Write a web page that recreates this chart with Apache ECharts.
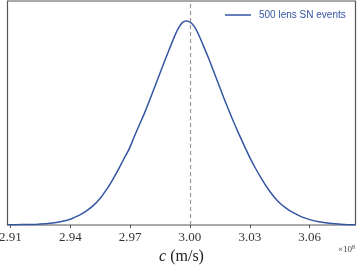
<!DOCTYPE html>
<html>
<head>
<meta charset="utf-8">
<script src="https://cdn.jsdelivr.net/npm/echarts@6/dist/echarts.min.js"></script>
<style>
html,body{margin:0;padding:0;background:#fff;}
#chart{width:357px;height:265px;}
</style>
</head>
<body>
<div id="chart"></div>
<script>
// speed of light (units of 1e8 m/s) and normalized posterior density
var cValues = [2.9085, 2.9160, 2.9225, 2.9276, 2.9321, 2.9361, 2.9406, 2.9446, 2.9481, 2.9516, 2.9547, 2.9577, 2.9607, 2.9637, 2.9667, 2.9697, 2.9722, 2.9747, 2.9773, 2.9798, 2.9823, 2.9848, 2.9873, 2.9898, 2.9923, 2.9943, 2.9963, 2.9981,
               3.0003, 3.0023, 3.0043, 3.0068, 3.0094, 3.0119, 3.0144, 3.0169, 3.0194, 3.0219, 3.0244, 3.0269, 3.0299, 3.0329, 3.0360, 3.0390, 3.0420, 3.0450, 3.0485, 3.0520, 3.0560, 3.0605, 3.0646, 3.0691, 3.0731, 3.0771, 3.0831];
var density = [0.001, 0.002, 0.003, 0.006, 0.011, 0.018, 0.031, 0.048, 0.069, 0.096, 0.127, 0.167, 0.213, 0.265, 0.321, 0.377, 0.436, 0.493, 0.551, 0.613, 0.676, 0.740, 0.804, 0.865, 0.926, 0.966, 0.993, 1.000,
               0.993, 0.971, 0.934, 0.877, 0.816, 0.752, 0.689, 0.625, 0.564, 0.505, 0.449, 0.395, 0.333, 0.277, 0.225, 0.179, 0.140, 0.108, 0.080, 0.059, 0.040, 0.025, 0.016, 0.010, 0.006, 0.003, 0.001];
var tickValues = [2.91, 2.94, 2.97, 3.00, 3.03, 3.06];
var tickLabels = ['2.91', '2.94', '2.97', '3.00', '3.03', '3.06'];
var trueC = 2.9979;
var seriesName = '500 lens SN events';

var lineColor = '#3556a3';
var chart = echarts.init(document.getElementById('chart'), null, {renderer: 'canvas'});
var pts = cValues.map(function (c, i) { return [c, density[i]]; });

chart.setOption({
  animation: false,
  backgroundColor: '#fff',
  grid: {left: 7.5, right: 1.5, top: 1, bottom: 40, containLabel: false, outerBoundsMode: 'none',
         show: true, borderColor: '#555', borderWidth: 1.2, backgroundColor: 'transparent'},
  legend: {
    data: [seriesName],
    left: 225, top: 10, padding: 0,
    icon: 'rect', itemWidth: 26, itemHeight: 1.5,
    textStyle: {color: lineColor, fontFamily: 'Liberation Sans', fontSize: 10, padding: [0, 0, 0, 3]}
  },
  xAxis: {
    type: 'value', min: 2.9085, max: 3.083,
    splitLine: {show: false},
    axisLine: {show: false},
    axisTick: {show: true, length: 3, lineStyle: {color: '#555'}, customValues: tickValues},
    axisLabel: {
      customValues: tickValues,
      color: '#333', fontFamily: 'Liberation Serif', fontSize: 13, margin: 6,
      formatter: function (v) {
        var i = tickValues.findIndex(function (t) { return Math.abs(t - v) < 1e-6; });
        return i >= 0 ? tickLabels[i] : '';
      }
    },
    name: '{i|c} (m/s)',
    nameLocation: 'middle', nameGap: 22,
    nameTextStyle: {
      color: '#222', fontFamily: 'Liberation Serif', fontSize: 16,
      rich: {i: {fontStyle: 'italic', fontFamily: 'Liberation Serif', fontSize: 16, color: '#222'}}
    }
  },
  yAxis: {type: 'value', min: 0, max: 1.098, show: false, splitLine: {show: false}},
  graphic: [{
    type: 'text', right: 2, top: 244,
    style: {
      text: '×10{s|8}', fill: '#444', fontFamily: 'Liberation Serif', fontSize: 9,
      rich: {s: {fontSize: 6, verticalAlign: 'top', padding: [0, 0, 5, 0], fill: '#444', fontFamily: 'Liberation Serif'}}
    }
  }],
  series: [{
    name: seriesName, type: 'line', data: pts, smooth: 0.3, symbol: 'none',
    lineStyle: {color: lineColor, width: 1.5}, itemStyle: {color: lineColor},
    markLine: {
      silent: true, symbol: 'none', label: {show: false},
      lineStyle: {color: '#999', type: [4, 3], width: 1.2},
      data: [{xAxis: trueC}]
    }
  }]
});
</script>
</body>
</html>
